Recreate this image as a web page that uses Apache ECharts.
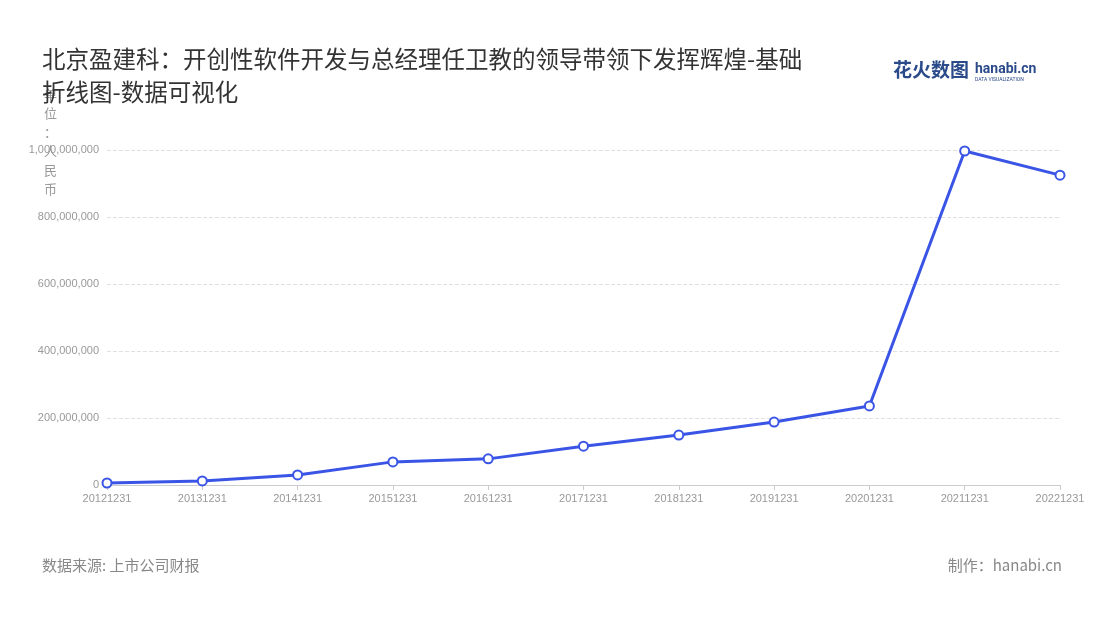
<!DOCTYPE html>
<html><head><meta charset="utf-8">
<script src="https://cdn.jsdelivr.net/npm/echarts@6/dist/echarts.min.js"></script>
<style>html,body{margin:0;padding:0;background:#fff}#c{width:1100px;height:620px}</style>
</head><body><div id="c"></div>
<script>
const categories=['20121231','20131231','20141231','20151231','20161231','20171231','20181231','20191231','20201231','20211231','20221231'];
const values=[6000000,12000000,30000000,69000000,78000000,116000000,149000000,188000000,236000000,997000000,925000000];
const chart=echarts.init(document.getElementById('c'));
chart.setOption({
  backgroundColor:'#fff',
  title:{text:'北京盈建科：开创性软件开发与总经理任卫教的领导带领下发挥辉煌-基础\n折线图-数据可视化',left:37,top:38,
    textStyle:{fontSize:23.5,fontWeight:'normal',color:'#333',lineHeight:33,fontFamily:'Noto Sans CJK SC'}},
  grid:{left:107,right:40,top:150,bottom:135},
  xAxis:{type:'category',data:categories,boundaryGap:false,
    axisLine:{lineStyle:{color:'#ccc'}},axisTick:{show:true,lineStyle:{color:'#ccc'}},
    axisLabel:{color:'#999',fontSize:11,margin:8,interval:0}},
  yAxis:{type:'value',min:0,max:1000000000,interval:200000000,
    axisLabel:{color:'#999',fontSize:11,formatter:v=>v.toLocaleString('en-US')},
    splitLine:{lineStyle:{type:'dashed',color:'#e0e0e0'}},axisLine:{show:false},axisTick:{show:false}},
  graphic:[
    {type:'text',left:44,top:85,style:{text:'单\n位\n：\n人\n民\n币',fill:'#999',fontSize:13,lineHeight:19,fontFamily:'Noto Sans CJK SC'}},
    {type:'text',left:42,top:558,style:{text:'数据来源: 上市公司财报',fill:'#888',fontSize:15,fontFamily:'Noto Sans CJK SC'}},
    {type:'text',right:38,top:558,style:{text:'制作：hanabi.cn',fill:'#888',fontSize:15,fontFamily:'Noto Sans CJK SC'}},
    {type:'text',left:893,top:60,style:{text:'花火数图',fill:'#2a4a8a',fontSize:19,fontWeight:'bold',fontFamily:'Noto Sans CJK SC'}},
    {type:'text',left:975,top:62,style:{text:'hanabi.cn',fill:'#2a4a8a',fontSize:14,fontWeight:'bold',fontFamily:'Roboto'}},
    {type:'text',left:975,top:77,style:{text:'DATA VISUALIZATION',fill:'#2a4a8a',fontSize:5,fontFamily:'Roboto'}}
  ],
  series:[{type:'line',data:values,symbol:'circle',symbolSize:9,
    lineStyle:{color:'#3a55e6',width:3},
    itemStyle:{color:'#fff',borderColor:'#3a55e6',borderWidth:2}}]
});
</script></body></html>
